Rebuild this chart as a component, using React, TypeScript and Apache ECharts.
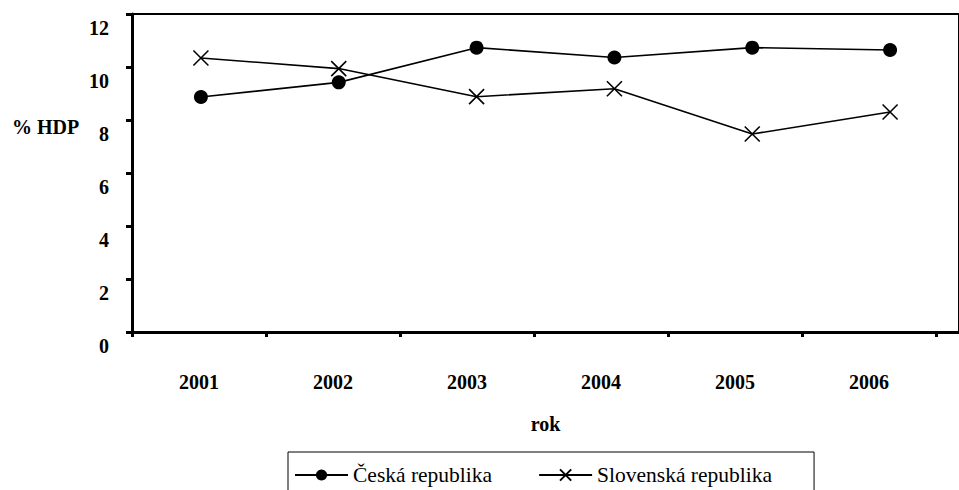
import React, { useEffect, useRef } from "react";
import * as echarts from "echarts";

const years = ["2001", "2002", "2003", "2004", "2005", "2006"];
const ceskaValues = [8.87, 9.42, 10.73, 10.36, 10.73, 10.64];
const slovenskaValues = [10.34, 9.94, 8.88, 9.18, 7.47, 8.3];
const seriesNames = ["Česká republika", "Slovenská republika"];
const yTicks = { min: 0, max: 12, interval: 2 };

const FONT = "Times New Roman, Liberation Serif, serif";
const CROSS = "path://M0,0L10,10M10,0L0,10";

export default function App() {
  const ref = useRef<HTMLDivElement>(null);
  useEffect(() => {
    if (!ref.current) return;
    const chart = echarts.init(ref.current, undefined, { renderer: "svg" });
    chart.setOption({
      animation: false,
      backgroundColor: "#fff",
      textStyle: { fontFamily: FONT },
      grid: [
        { left: 132, top: 14, width: 838, height: 318, show: true, borderColor: "#000", borderWidth: 2, backgroundColor: "transparent" },
        { left: 132, top: 14, width: 804, height: 318 },
      ],
      xAxis: [
        {
          type: "category",
          gridIndex: 0,
          data: years,
          boundaryGap: true,
          axisLine: { show: true, lineStyle: { color: "#000", width: 3 } },
          axisTick: { show: false },
          axisLabel: { show: false },
          name: "rok",
          nameLocation: "middle",
          nameGap: 82,
          nameTextStyle: { fontFamily: FONT, fontWeight: "bold", fontSize: 20, color: "#000" },
        },
        {
          type: "category",
          gridIndex: 1,
          data: years,
          boundaryGap: true,
          axisLine: { show: false },
          axisTick: { show: true, length: 5, lineStyle: { color: "#000", width: 3 } },
          axisLabel: { margin: 40, fontFamily: FONT, fontWeight: "bold", fontSize: 20, color: "#000" },
        },
      ],
      yAxis: [
        {
          type: "value",
          gridIndex: 0,
          min: yTicks.min,
          max: yTicks.max,
          interval: yTicks.interval,
          axisLine: { show: true, lineStyle: { color: "#000", width: 3 } },
          axisTick: { show: true, length: 6, lineStyle: { color: "#000", width: 3 } },
          splitLine: { show: false },
          axisLabel: {
            margin: 23,
            fontFamily: FONT,
            fontWeight: "bold",
            fontSize: 20,
            color: "#000",
            verticalAlign: "top",
            lineHeight: 28,
          },
        },
        { type: "value", gridIndex: 1, show: false, min: 0, max: 12 },
      ],
      legend: {
        left: 288,
        top: 452,
        data: seriesNames,
        itemWidth: 53,
        itemHeight: 14,
        itemGap: 46,
        borderColor: "#000",
        borderWidth: 1,
        padding: [12, 42, 40, 6],
        textStyle: { fontFamily: FONT, fontSize: 21.5, color: "#000" },
      },
      graphic: [
        {
          type: "text",
          left: 12,
          top: 117,
          style: { text: "% HDP", fontFamily: FONT, fontWeight: "bold", fontSize: 20, fill: "#000" },
        },
      ],
      series: [
        {
          name: seriesNames[0],
          type: "line",
          xAxisIndex: 0,
          yAxisIndex: 0,
          data: ceskaValues,
          symbol: "circle",
          symbolSize: 14,
          lineStyle: { color: "#000", width: 1.6 },
          itemStyle: { color: "#000" },
        },
        {
          name: seriesNames[1],
          type: "line",
          xAxisIndex: 0,
          yAxisIndex: 0,
          data: slovenskaValues,
          symbol: CROSS,
          symbolSize: 15,
          lineStyle: { color: "#000", width: 1.6 },
          itemStyle: { color: "#000", borderColor: "#000", borderWidth: 1.6 },
        },
      ],
    });
    return () => chart.dispose();
  }, []);
  return <div ref={ref} style={{ position: "fixed", left: 0, top: 0, width: 959, height: 490 }} />;
}
